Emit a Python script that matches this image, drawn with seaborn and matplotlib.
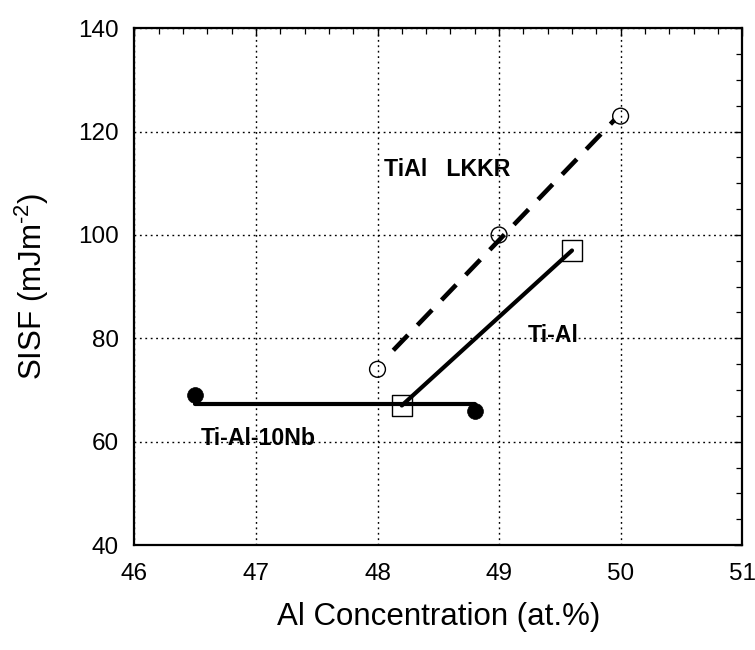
import numpy as np
import pandas as pd
import matplotlib
matplotlib.use("Agg")
import matplotlib.pyplot as plt
from matplotlib.ticker import MultipleLocator
import seaborn as sns

# TiAl LKKR calculations
lkkr_al = [48.0, 49.0, 50.0]
lkkr_sisf = [74, 100, 123]
lkkr_fit_range = [48.13, 49.95]

# Ti-Al measurements
tial_al = [48.2, 49.6]
tial_sisf = [67, 97]

# Ti-Al-10Nb measurements and the mean level drawn through them
nb_al = [46.5, 48.8]
nb_sisf = [69, 66]
nb_level = 67.2

x_ticks = [46, 47, 48, 49, 50, 51]
y_ticks = [40, 60, 80, 100, 120, 140]

sns.set_theme(style="white")
plt.rcParams["font.family"] = ["Liberation Sans", "DejaVu Sans"]
plt.rcParams["mathtext.fontset"] = "custom"
plt.rcParams["mathtext.rm"] = "Liberation Sans"
for key in ("text.color", "axes.labelcolor", "xtick.color", "ytick.color"):
    plt.rcParams[key] = "black"

fig = plt.figure(figsize=(7.55, 6.5), dpi=100)
ax = fig.add_axes([0.178, 0.1615, 0.805, 0.795])

# grid
ax.grid(True, which="major", color="black", linestyle=(0, (1.3, 2.6)), linewidth=1.0)
ax.set_axisbelow(True)

# LKKR linear fit (dashed)
slope, intercept = np.polyfit(lkkr_al, lkkr_sisf, 1)
fit_x = np.array(lkkr_fit_range)
fit_df = pd.DataFrame({"x": fit_x, "y": slope * fit_x + intercept})
sns.lineplot(data=fit_df, x="x", y="y", ax=ax, color="black", linewidth=3.3)
ax.lines[-1].set_linestyle((0, (4.6, 3.0)))

# Ti-Al line
sns.lineplot(x=tial_al, y=tial_sisf, ax=ax, color="black", linewidth=3.0)

# Ti-Al-10Nb level
sns.lineplot(x=nb_al, y=[nb_level, nb_level], ax=ax, color="black", linewidth=3.0)

# markers
sns.scatterplot(x=lkkr_al, y=lkkr_sisf, ax=ax, marker="o", s=130,
                facecolor="none", edgecolor="black", linewidth=1.0, zorder=5)
sns.scatterplot(x=tial_al, y=tial_sisf, ax=ax, marker="s", s=220,
                facecolor="none", edgecolor="black", linewidth=1.0, zorder=5)
sns.scatterplot(x=nb_al, y=nb_sisf, ax=ax, marker="o", s=130,
                color="black", edgecolor="black", linewidth=0.5, zorder=5)

# annotations
ax.text(48.05, 111.4, "TiAl   LKKR", fontsize=16.7, fontweight="bold", ha="left", va="baseline")
ax.text(49.24, 79.3, "Ti-Al", fontsize=16.7, fontweight="bold", ha="left", va="baseline")
ax.text(46.55, 59.4, "Ti-Al-10Nb", fontsize=16.7, fontweight="bold", ha="left", va="baseline")

ax.set_xlim(46, 51)
ax.set_ylim(40, 140)
ax.set_xticks(x_ticks)
ax.set_yticks(y_ticks)
ax.xaxis.set_minor_locator(MultipleLocator(0.2))
ax.yaxis.set_minor_locator(MultipleLocator(5))
ax.tick_params(which="both", direction="in", top=True, right=True, color="black")
ax.tick_params(which="major", length=6, width=1.0, labelsize=17.5)
ax.tick_params(axis="x", which="major", pad=13)
ax.tick_params(axis="y", which="major", pad=11)
ax.tick_params(which="minor", length=4, width=0.9)

for sp in ax.spines.values():
    sp.set_color("black")
    sp.set_linewidth(1.6)

ax.set_xlabel("Al Concentration (at.%)", fontsize=22.5, labelpad=12)
ax.set_ylabel(r"SISF (mJm$^{\text{-2}}$)", fontsize=22.5, labelpad=20)

fig.savefig("out.png", dpi=100, facecolor="white")
